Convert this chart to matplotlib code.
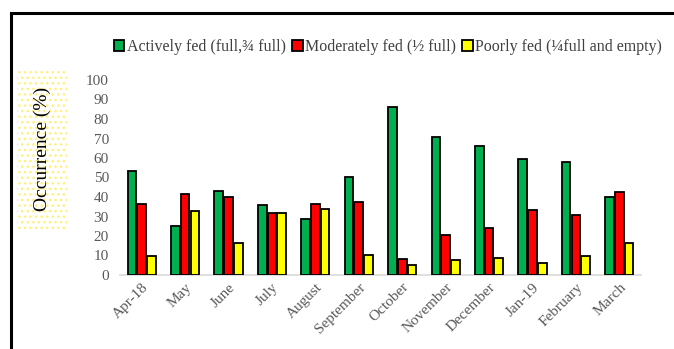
import numpy as np
import matplotlib.pyplot as plt
from matplotlib.patches import Rectangle

# Meses de muestreo y porcentaje de ocurrencia por categoría de alimentación
months = ['Apr-18', 'May', 'June', 'July', 'August', 'September', 'October',
          'November', 'December', 'Jan-19', 'February', 'March']
actively = [53.3, 25.3, 43.1, 35.9, 28.7, 50.4, 86.2, 70.8, 66.2, 59.7, 58.1, 39.8]
moderately = [36.4, 41.5, 40.2, 32.0, 36.4, 37.6, 8.0, 20.5, 23.9, 33.2, 30.6, 42.7]
poorly = [9.9, 33.0, 16.6, 32.0, 33.8, 10.3, 5.1, 7.7, 8.5, 6.2, 9.6, 16.2]

labels = ['Actively fed (full,¾ full)', 'Moderately fed (½ full)',
          'Poorly fed (¼full and empty)']
colors = ['#00b050', '#ff0000', '#ffff00']

plt.rcParams['font.family'] = ['Liberation Serif', 'DejaVu Serif']
plt.rcParams['hatch.linewidth'] = 1.0

fig = plt.figure(figsize=(6.74, 3.49), dpi=100)
W, H = 674, 349
ax = fig.add_axes([120 / W, 1 - 275 / H, (641 - 120) / W, (275 - 80) / H])

x = np.arange(len(months))
w = 0.2
step = 0.225
for i, (vals, c, lab) in enumerate(zip([actively, moderately, poorly], colors, labels)):
    ax.bar(x + (i - 1) * step, vals, width=w, color=c, edgecolor='black',
           linewidth=1.3, label=lab, zorder=3)

ax.set_xlim(-0.5, len(months) - 0.5)
ax.set_ylim(0, 100)
ax.set_yticks(range(0, 101, 10))
ax.set_xticks(x)
ax.set_xticklabels(months, rotation=45, ha='right', rotation_mode='anchor')
ax.tick_params(axis='both', length=0, labelsize=11, labelcolor='#595959')
ax.tick_params(axis='y', pad=8)
ax.tick_params(axis='x', pad=4)
for s in ['top', 'right', 'left']:
    ax.spines[s].set_visible(False)
ax.spines['bottom'].set_color('#d9d9d9')
ax.spines['bottom'].set_linewidth(1.2)

# Caja punteada detrás del título del eje y
fig.patches.append(Rectangle((17 / W, 1 - 230 / H), 50 / W, 160 / H,
                             transform=fig.transFigure, facecolor='white',
                             edgecolor='#fff07a', hatch='...', linewidth=0,
                             zorder=0))
fig.text(42 / W, 1 - 149 / H, 'Occurrence (%)', rotation=90, fontsize=14,
         ha='center', va='center')

fig.legend(loc='center', bbox_to_anchor=(388 / W, 1 - 47 / H), ncol=3,
           frameon=False, fontsize=11.5, handlelength=0.65, handleheight=0.65,
           handletextpad=0.15, columnspacing=0.4, labelcolor='#404040')

# Marco negro de la figura
fig.patches.append(Rectangle((10.5 / W, -0.2), 1.5, 1.2 - 12.5 / H,
                             transform=fig.transFigure, fill=False,
                             edgecolor='black', linewidth=2.2, clip_on=False))

fig.savefig('out.png', dpi=100)
